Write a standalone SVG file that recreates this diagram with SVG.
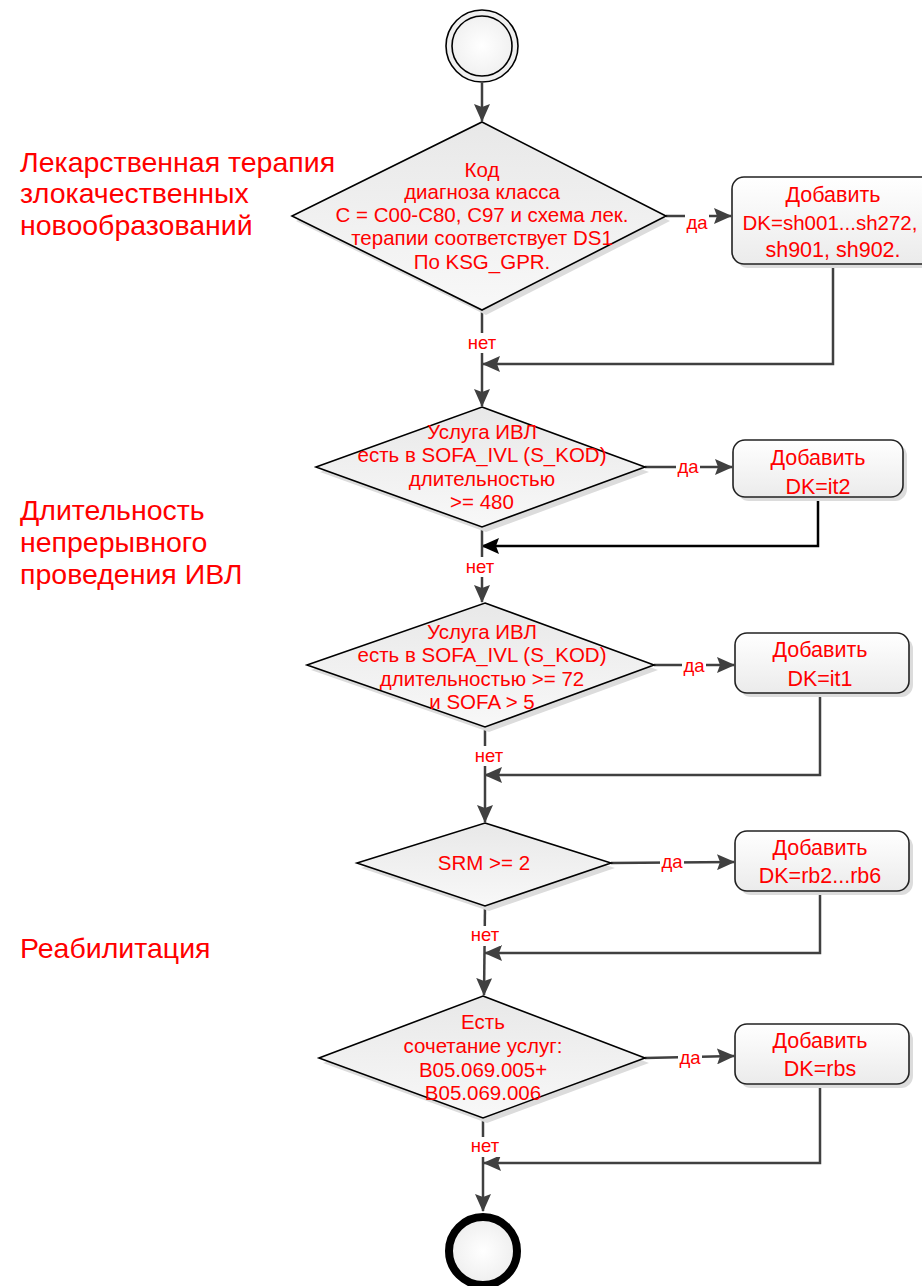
<svg xmlns="http://www.w3.org/2000/svg" width="922" height="1286" viewBox="0 0 922 1286">
<style>
.dia{fill:url(#gd);stroke:#000;stroke-width:1.6}
.sh{fill:#dcdcdc;stroke:none}
.box{fill:url(#gb);stroke:#222;stroke-width:1.6}
.t{font-family:"Liberation Sans",Arial,sans-serif;fill:#ff0000;text-anchor:middle}
.dt{font-size:20.5px}
.bt{font-size:21.5px}
.lb{font-size:18.5px}
.side{font-family:"Liberation Sans",Arial,sans-serif;fill:#ff0000;font-size:28.5px}
.c{fill:none;stroke:#404040;stroke-width:2.5}
.cb{fill:none;stroke:#000;stroke-width:2.5}
</style>
<defs>
<linearGradient id="gd" x1="0" y1="0" x2="0" y2="1"><stop offset="0" stop-color="#e8e8e8"/><stop offset="1" stop-color="#f8f8f8"/></linearGradient>
<linearGradient id="gb" x1="0" y1="0" x2="0" y2="1"><stop offset="0" stop-color="#ffffff"/><stop offset="1" stop-color="#ebebeb"/></linearGradient>
<radialGradient id="gc"><stop offset="0" stop-color="#ffffff"/><stop offset="1" stop-color="#eeeeee"/></radialGradient>
<marker id="a" viewBox="0 0 18 16" refX="17" refY="8" markerWidth="18" markerHeight="16" markerUnits="userSpaceOnUse" orient="auto"><path d="M0,0 L18,8 L0,16 L3,8 z" fill="#404040"/></marker>
<marker id="ab" viewBox="0 0 18 16" refX="17" refY="8" markerWidth="18" markerHeight="16" markerUnits="userSpaceOnUse" orient="auto"><path d="M0,0 L18,8 L0,16 L3,8 z" fill="#000"/></marker>
</defs>

<g id="side-labels">
<text class="side" x="20" y="172">Лекарственная терапия</text>
<text class="side" x="20" y="203">злокачественных</text>
<text class="side" x="20" y="235">новообразований</text>
<text class="side" x="20" y="520">Длительность</text>
<text class="side" x="20" y="552">непрерывного</text>
<text class="side" x="20" y="584">проведения ИВЛ</text>
<text class="side" x="20" y="958">Реабилитация</text>
</g>

<g id="connectors">
<line class="c" x1="482" y1="83" x2="482" y2="121" marker-end="url(#a)"/>
<line class="c" x1="666" y1="216" x2="731" y2="216" marker-end="url(#a)"/>
<polyline class="c" points="833,264 833,364 483,364" marker-end="url(#a)"/>
<line class="c" x1="482" y1="310" x2="482" y2="406" marker-end="url(#a)"/>
<line class="c" x1="645" y1="467" x2="732" y2="467" marker-end="url(#a)"/>
<polyline class="cb" points="818,497 818,546 482,546" marker-end="url(#ab)"/>
<line class="c" x1="482" y1="527" x2="482" y2="602" marker-end="url(#a)"/>
<line class="c" x1="654" y1="665" x2="734" y2="665" marker-end="url(#a)"/>
<polyline class="c" points="820,693 820,775 485,775" marker-end="url(#a)"/>
<line class="c" x1="485" y1="727" x2="485" y2="822" marker-end="url(#a)"/>
<line class="c" x1="611" y1="863" x2="734" y2="862" marker-end="url(#a)"/>
<polyline class="c" points="820,891 820,953 485,953" marker-end="url(#a)"/>
<line class="c" x1="485" y1="906" x2="484" y2="995" marker-end="url(#a)"/>
<line class="c" x1="645" y1="1058" x2="734" y2="1056" marker-end="url(#a)"/>
<polyline class="c" points="820,1084 820,1163 484,1163" marker-end="url(#a)"/>
<line class="c" x1="483" y1="1118" x2="483" y2="1211" marker-end="url(#a)"/>
<g class="t lb">
<rect x="685" y="210" width="24" height="18" fill="#fff"/><text x="697" y="229">да</text>
<rect x="676" y="460" width="24" height="18" fill="#fff"/><text x="688" y="473">да</text>
<rect x="682" y="658" width="24" height="18" fill="#fff"/><text x="694" y="672">да</text>
<rect x="660" y="854" width="24" height="18" fill="#fff"/><text x="672" y="868">да</text>
<rect x="678" y="1049" width="24" height="18" fill="#fff"/><text x="690" y="1064">да</text>
<rect x="466" y="333" width="32" height="20" fill="#fff"/><text x="482" y="349">нет</text>
<rect x="464" y="557" width="32" height="20" fill="#fff"/><text x="480" y="573">нет</text>
<rect x="473" y="746" width="32" height="20" fill="#fff"/><text x="489" y="762">нет</text>
<rect x="469" y="926" width="32" height="20" fill="#fff"/><text x="485" y="941">нет</text>
<rect x="469" y="1137" width="32" height="20" fill="#fff"/><text x="485" y="1152">нет</text>
</g>
</g>

<g id="start">
<circle cx="482" cy="46" r="36" fill="url(#gc)" stroke="#000" stroke-width="1.6"/>
<circle cx="482" cy="46" r="30" fill="none" stroke="#000" stroke-width="1.6"/>
</g>

<g id="d1">
<polygon class="sh" points="486,127 670,221 486,315 296,221"/>
<polygon class="dia" points="482,122 666,216 482,310 292,216"/>
<g class="t dt">
<text x="482" y="177">Код</text>
<text x="482" y="199">диагноза класса</text>
<text x="482" y="222">C = C00-C80, C97 и схема лек.</text>
<text x="482" y="245">терапии соответствует DS1</text>
<text x="482" y="269">По KSG_GPR.</text>
</g>
</g>

<g id="b1">
<rect class="sh" x="736" y="181" width="210" height="87" rx="12"/>
<rect class="box" x="732" y="177" width="210" height="87" rx="12"/>
<g class="t bt">
<text x="833" y="202">Добавить</text>
<text x="830" y="230" style="font-size:20.5px">DK=sh001...sh272,</text>
<text x="833" y="257">sh901, sh902.</text>
</g>
</g>

<g id="d2">
<polygon class="sh" points="486,412 649,472 486,532 320,472"/>
<polygon class="dia" points="482,407 645,467 482,527 316,467"/>
<g class="t dt">
<text x="482" y="439">Услуга ИВЛ</text>
<text x="482" y="462">есть в SOFA_IVL (S_KOD)</text>
<text x="482" y="486">длительностью</text>
<text x="482" y="509">&gt;= 480</text>
</g>
</g>

<g id="b2">
<rect class="sh" x="737" y="444" width="170" height="57" rx="12"/>
<rect class="box" x="733" y="440" width="170" height="57" rx="12"/>
<g class="t bt">
<text x="818" y="465">Добавить</text>
<text x="818" y="494">DK=it2</text>
</g>
</g>

<g id="d3">
<polygon class="sh" points="489,608 658,670 489,732 311,670"/>
<polygon class="dia" points="485,603 654,665 485,727 307,665"/>
<g class="t dt">
<text x="482" y="639">Услуга ИВЛ</text>
<text x="482" y="662">есть в SOFA_IVL (S_KOD)</text>
<text x="482" y="686">длительностью &gt;= 72</text>
<text x="482" y="709">и SOFA &gt; 5</text>
</g>
</g>

<g id="b3">
<rect class="sh" x="739" y="637" width="174" height="60" rx="12"/>
<rect class="box" x="735" y="633" width="174" height="60" rx="12"/>
<g class="t bt">
<text x="820" y="657">Добавить</text>
<text x="820" y="686">DK=it1</text>
</g>
</g>

<g id="d4">
<polygon class="sh" points="489,828 615,868 489,911 361,868"/>
<polygon class="dia" points="485,823 611,863 485,906 357,863"/>
<text class="t dt" x="484" y="870">SRM &gt;= 2</text>
</g>

<g id="b4">
<rect class="sh" x="739" y="835" width="174" height="60" rx="12"/>
<rect class="box" x="735" y="831" width="174" height="60" rx="12"/>
<g class="t bt">
<text x="820" y="855">Добавить</text>
<text x="820" y="883">DK=rb2...rb6</text>
</g>
</g>

<g id="d5">
<polygon class="sh" points="487,1001 649,1063 487,1123 323,1063"/>
<polygon class="dia" points="483,996 645,1058 483,1118 319,1058"/>
<g class="t dt">
<text x="483" y="1029">Есть</text>
<text x="483" y="1053">сочетание услуг:</text>
<text x="483" y="1077">B05.069.005+</text>
<text x="483" y="1100">B05.069.006</text>
</g>
</g>

<g id="b5">
<rect class="sh" x="739" y="1028" width="174" height="60" rx="12"/>
<rect class="box" x="735" y="1024" width="174" height="60" rx="12"/>
<g class="t bt">
<text x="820" y="1048">Добавить</text>
<text x="820" y="1076">DK=rbs</text>
</g>
</g>

<g id="end">
<circle cx="483" cy="1251" r="34" fill="url(#gc)" stroke="#000" stroke-width="8"/>
</g>
</svg>
